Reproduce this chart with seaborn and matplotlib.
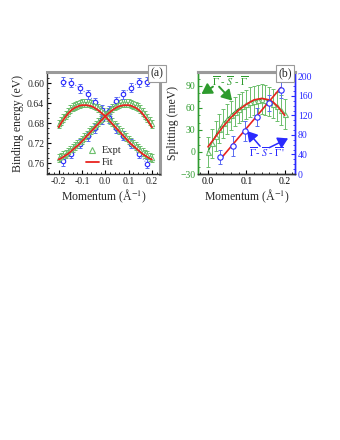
import numpy as np
import pandas as pd
import matplotlib
matplotlib.use("Agg")
import matplotlib.pyplot as plt
import seaborn as sns
from matplotlib.ticker import MultipleLocator, FormatStrFormatter
from matplotlib.lines import Line2D

# ---------------- data: panel (a) ----------------
k_a = [-0.20, -0.19, -0.18, -0.17, -0.16, -0.15, -0.14, -0.13, -0.12, -0.11,
       -0.10, -0.09, -0.08, -0.07, -0.06, -0.05, -0.04, -0.03, -0.02, -0.01,
       0.00, 0.01, 0.02, 0.03, 0.04, 0.05, 0.06, 0.07, 0.08, 0.09,
       0.10, 0.11, 0.12, 0.13, 0.14, 0.15, 0.16, 0.17, 0.18, 0.19, 0.20]
expt_left = [0.682, 0.675, 0.669, 0.663, 0.657, 0.652, 0.648, 0.645, 0.643, 0.641,
             0.640, 0.639, 0.639, 0.640, 0.641, 0.643, 0.646, 0.649, 0.653, 0.658,
             0.663, 0.668, 0.673, 0.678, 0.683, 0.688, 0.693, 0.698, 0.703, 0.708,
             0.713, 0.718, 0.722, 0.726, 0.730, 0.734, 0.738, 0.741, 0.744, 0.747, 0.749]
expt_right = [0.750, 0.747, 0.744, 0.741, 0.738, 0.734, 0.730, 0.726, 0.722, 0.718,
              0.713, 0.708, 0.703, 0.698, 0.693, 0.688, 0.683, 0.678, 0.673, 0.668,
              0.663, 0.658, 0.653, 0.649, 0.646, 0.643, 0.641, 0.640, 0.639, 0.639,
              0.640, 0.641, 0.643, 0.645, 0.648, 0.652, 0.657, 0.663, 0.669, 0.675, 0.682]
fit_left = [0.688, 0.680, 0.673, 0.667, 0.661, 0.656, 0.652, 0.649, 0.647, 0.645,
            0.644, 0.644, 0.644, 0.645, 0.646, 0.648, 0.651, 0.654, 0.658, 0.662,
            0.666, 0.671, 0.676, 0.681, 0.686, 0.691, 0.696, 0.701, 0.706, 0.711,
            0.716, 0.721, 0.725, 0.729, 0.733, 0.737, 0.741, 0.744, 0.747, 0.750, 0.752]
fit_right = [0.752, 0.750, 0.747, 0.744, 0.741, 0.737, 0.733, 0.729, 0.725, 0.721,
             0.716, 0.711, 0.706, 0.701, 0.696, 0.691, 0.686, 0.681, 0.676, 0.671,
             0.666, 0.662, 0.658, 0.654, 0.651, 0.648, 0.646, 0.645, 0.644, 0.644,
             0.644, 0.645, 0.647, 0.649, 0.652, 0.656, 0.661, 0.667, 0.673, 0.680, 0.688]
k_blue = [-0.18, -0.145, -0.11, -0.075, -0.045, -0.015, 0.015, 0.045, 0.075, 0.11, 0.145, 0.18]
blue_down = [0.597, 0.599, 0.610, 0.622, 0.638, 0.653, 0.670, 0.690, 0.705, 0.721, 0.741, 0.761]
blue_up = [0.756, 0.741, 0.721, 0.706, 0.690, 0.672, 0.655, 0.636, 0.622, 0.609, 0.598, 0.597]
err_a_green = 0.008
err_a_blue = 0.009

# ---------------- data: panel (b) ----------------
k_b = [0.00, 0.01, 0.02, 0.03, 0.04, 0.05, 0.06, 0.07, 0.08, 0.09, 0.10,
       0.11, 0.12, 0.13, 0.14, 0.15, 0.16, 0.17, 0.18, 0.19, 0.20]
split_gsg = [0, 12, 22, 32, 39, 45, 50, 55, 59, 62, 65, 68, 70, 71, 72, 71, 69, 66, 62, 57, 52]
err_gsg = [20, 20, 20, 20, 20, 20, 20, 20, 20, 20, 20, 20, 20, 20, 20, 20, 20, 20, 20, 20, 20]
fit_gsg = [7, 14, 21, 28, 35, 41, 47, 52, 57, 61, 65, 68, 71, 72, 73, 72, 71, 68, 63, 57, 50]
k_b_blue = [0.032, 0.064, 0.096, 0.128, 0.160, 0.190]
split_gsgp = [35, 57, 88, 117, 146, 172]
err_gsgp = [14, 20, 20, 18, 16, 16]
k_b_fit = [0.032, 0.190]
fit_gsgp = [30, 177]

# ---------------- style ----------------
sns.set_theme(style="ticks")
plt.rcParams["font.family"] = ["Liberation Serif", "DejaVu Serif"]
plt.rcParams["mathtext.fontset"] = "stix"

GREEN = "#2e9b2e"
LGREEN = "#6cbf6c"
BLUE = "#2a2aff"
LBLUE = "#5a6cf0"
RED = "#e8231f"
GRAY = "#9a9a9a"

fig = plt.figure(figsize=(3.4, 4.4), dpi=100)
axa = fig.add_axes([47/340, 1-174/440, 113/340, 102/440])
axb = fig.add_axes([198/340, 1-174/440, 97/340, 102/440])

def style_ticks(ax, **kw):
    ax.tick_params(which="both", direction="in", labelsize=7, pad=2, **kw)
    ax.tick_params(which="major", length=3, width=0.8)
    ax.tick_params(which="minor", length=1.5, width=0.6)

# ---------- panel (a) ----------
df_a = pd.DataFrame({"k": k_a, "eL": expt_left, "eR": expt_right, "fL": fit_left, "fR": fit_right})
for col in ["eL", "eR"]:
    axa.errorbar(df_a["k"], df_a[col], yerr=err_a_green, fmt="none", ecolor=LGREEN,
                 elinewidth=0.7, capsize=1.5, capthick=0.7, zorder=2)
df_b = pd.DataFrame({"k": k_blue, "down": blue_down, "up": blue_up})
for col in ["down", "up"]:
    axa.errorbar(df_b["k"], df_b[col], yerr=err_a_blue, fmt="none", ecolor=LBLUE,
                 elinewidth=0.7, capsize=1.5, capthick=0.7, zorder=2)
    sns.lineplot(data=df_b, x="k", y=col, ax=axa, color=LBLUE, lw=0.7, linestyle=":",
                 marker="o", markersize=3.2, markerfacecolor="white", markeredgecolor=BLUE,
                 markeredgewidth=0.8, zorder=3)
for col in ["eL", "eR"]:
    sns.lineplot(data=df_a, x="k", y=col, ax=axa, color="#1f7a1f", lw=0.8,
                 marker="^", markersize=3.2, markerfacecolor="white", markeredgecolor=LGREEN,
                 markeredgewidth=0.7, zorder=3)
for col in ["fL", "fR"]:
    sns.lineplot(data=df_a, x="k", y=col, ax=axa, color=RED, lw=1.3, zorder=4)

axa.set_xlim(-0.25, 0.235)
axa.set_ylim(0.781, 0.578)
axa.yaxis.set_major_locator(MultipleLocator(0.04))
axa.yaxis.set_minor_locator(MultipleLocator(0.01))
axa.xaxis.set_major_locator(MultipleLocator(0.1))
axa.xaxis.set_minor_locator(MultipleLocator(0.02))
axa.yaxis.set_major_formatter(FormatStrFormatter("%.2f"))
axa.xaxis.set_major_formatter(FormatStrFormatter("%.1f"))
style_ticks(axa, color="black")
axa.set_xlabel("Momentum (Å$^{-1}$)", fontsize=8.5, labelpad=1)
axa.set_ylabel("Binding energy (eV)", fontsize=8.5, labelpad=2)
for s in ["top", "right"]:
    axa.spines[s].set_color(GRAY)
    axa.spines[s].set_linewidth(2.2)
for s in ["left", "bottom"]:
    axa.spines[s].set_color("#333333")
    axa.spines[s].set_linewidth(1.0)

h1 = Line2D([], [], marker="^", linestyle="none", markerfacecolor="white",
            markeredgecolor=LGREEN, markersize=3.8, markeredgewidth=0.8)
h2 = Line2D([], [], color=RED, lw=1.3)
axa.legend([h1, h2], ["Expt", "Fit"], loc="center left", bbox_to_anchor=(0.345, 0.17),
           frameon=False, fontsize=7.5, handlelength=1.25, handletextpad=0.25,
           labelspacing=0.25, borderpad=0, borderaxespad=0)
axa.text(0.975, 0.985, "(a)", transform=axa.transAxes, ha="center", va="center", fontsize=8.5,
         bbox=dict(boxstyle="square,pad=0.2", fc="white", ec=GRAY, lw=0.8), zorder=10)

# ---------- panel (b) ----------
axb2 = axb.twinx()
df_g = pd.DataFrame({"k": k_b, "s": split_gsg, "f": fit_gsg})
axb.errorbar(df_g["k"], df_g["s"], yerr=err_gsg, fmt="none", ecolor=LGREEN,
             elinewidth=0.7, capsize=1.5, capthick=0.7, zorder=2)
sns.lineplot(data=df_g, x="k", y="s", ax=axb, color="#1f7a1f", lw=0.8,
             marker="^", markersize=3.6, markerfacecolor="white", markeredgecolor=LGREEN,
             markeredgewidth=0.8, zorder=3)
sns.lineplot(data=df_g, x="k", y="f", ax=axb, color=RED, lw=1.2, zorder=4)

df_p = pd.DataFrame({"k": k_b_blue, "s": split_gsgp, "e": err_gsgp})
df_pf = pd.DataFrame({"k": k_b_fit, "f": fit_gsgp})
axb2.errorbar(df_p["k"], df_p["s"], yerr=df_p["e"], fmt="none", ecolor=LBLUE,
              elinewidth=0.7, capsize=1.5, capthick=0.7, zorder=2)
sns.lineplot(data=df_pf, x="k", y="f", ax=axb2, color=RED, lw=1.2, zorder=3)
sns.scatterplot(data=df_p, x="k", y="s", ax=axb2, marker="o", s=15, facecolor="white",
                edgecolor=BLUE, linewidth=0.8, zorder=4)

axb.set_xlim(-0.026, 0.227)
axb.set_ylim(-30, 109)
axb2.set_ylim(0, 209)
axb.xaxis.set_major_locator(MultipleLocator(0.1))
axb.xaxis.set_minor_locator(MultipleLocator(0.02))
axb.yaxis.set_major_locator(MultipleLocator(30))
axb.yaxis.set_minor_locator(MultipleLocator(10))
axb2.yaxis.set_major_locator(MultipleLocator(40))
axb2.yaxis.set_minor_locator(MultipleLocator(10))
axb.xaxis.set_major_formatter(FormatStrFormatter("%.1f"))
style_ticks(axb)
axb.tick_params(axis="y", which="both", colors=GREEN)
axb.tick_params(axis="x", which="both", colors="black")
style_ticks(axb2, colors=BLUE)
axb.set_xlabel("Momentum (Å$^{-1}$)", fontsize=8.5, labelpad=1)
axb.set_ylabel("Splitting (meV)", fontsize=8.5, labelpad=1)
axb2.set_ylabel("")
for ax in (axb, axb2):
    ax.spines["top"].set_color(GRAY)
    ax.spines["top"].set_linewidth(2.2)
    ax.spines["left"].set_color(GREEN)
    ax.spines["left"].set_linewidth(1.0)
    ax.spines["right"].set_color(BLUE)
    ax.spines["right"].set_linewidth(1.0)
    ax.spines["bottom"].set_color("#333333")
    ax.spines["bottom"].set_linewidth(1.0)

axb2.text(0.9, 0.985, "(b)", transform=axb.transAxes, ha="center", va="center", fontsize=8.5,
          bbox=dict(boxstyle="square,pad=0.2", fc="white", ec=GRAY, lw=0.8), zorder=10)

lab_g = r"$\overline{\Gamma}$ - $\overline{S}$ - $\overline{\Gamma}$"
lab_b = r"$\overline{\Gamma}$- $\overline{S}$ - $\overline{\Gamma}$'"
axb.text(0.011, 97, lab_g, fontsize=7.5, color=GREEN, ha="left", va="center")
arrow_g = dict(arrowstyle="-|>,head_width=0.3,head_length=0.5", color=GREEN, lw=1.4,
               shrinkA=0, shrinkB=0)
axb.annotate("", xy=(-0.017, 79), xytext=(0.013, 89), arrowprops=arrow_g)
axb.annotate("", xy=(0.063, 70), xytext=(0.029, 89), arrowprops=arrow_g)
axb2.text(0.154, 45, lab_b, fontsize=7.5, color=BLUE, ha="center", va="center")
arrow_b = dict(arrowstyle="-|>,head_width=0.3,head_length=0.5", color=BLUE, lw=1.1,
               shrinkA=0, shrinkB=0)
axb2.annotate("", xy=(0.102, 88), xytext=(0.136, 57), arrowprops=arrow_b)
axb2.annotate("", xy=(0.209, 73), xytext=(0.16, 54), arrowprops=arrow_b)

fig.savefig("out.png", dpi=100)
